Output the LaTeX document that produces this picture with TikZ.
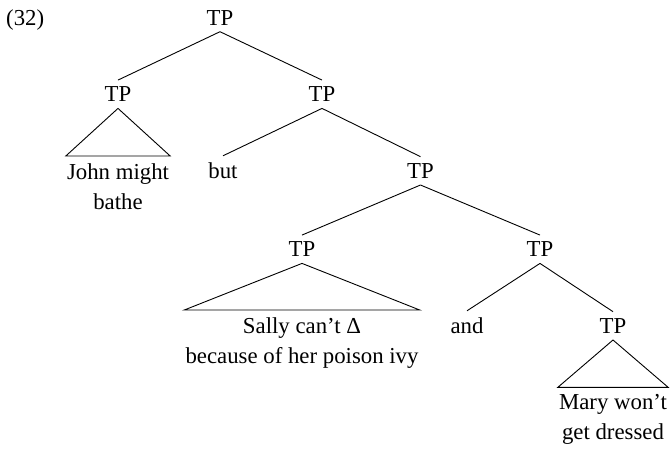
\documentclass[tikz,border=0pt]{standalone}
\usepackage{fontspec}
\setmainfont{Liberation Serif}
\begin{document}
\begin{tikzpicture}[x=1pt,y=-1pt,
  every node/.style={font=\fontsize{22.8}{30}\selectfont},
  cat/.style={anchor=base,inner xsep=1pt,inner ysep=6.5pt},
  leaf/.style={anchor=north,align=center,inner xsep=1pt,inner ysep=7pt},
  branch/.style={line width=0.9pt},
  roof/.style={line width=0.9pt,line join=miter}]
\useasboundingbox (0,0) rectangle (670,451);

% example number
\node[anchor=base west,inner sep=0pt] (num) at (6,25) {(32)};

% category labels
\node[cat] (tp0) at (220,25) {TP};
\node[cat] (tp1) at (118,101.7) {TP};
\node[cat] (tp2) at (322,101.7) {TP};
\node[cat] (but) at (223,178.3) {but};
\node[cat] (tp3) at (420.5,178.3) {TP};
\node[cat] (tp4) at (302,256.7) {TP};
\node[cat] (tp5) at (540,256.7) {TP};
\node[cat] (and) at (467,333.3) {and};
\node[cat] (tp6) at (613,333.3) {TP};

% phrasal leaves under triangles
\node[leaf] (john) at (118,156) {John might\\bathe};
\node[leaf] (sally) at (302,310) {Sally can’t Δ\\because of her poison ivy};
\node[leaf] (mary) at (613,387.3) {Mary won’t\\get dressed};

% branches
\draw[branch] (tp0.south) -- (tp1.north);
\draw[branch] (tp0.south) -- (tp2.north);
\draw[branch] (tp2.south) -- (but.north);
\draw[branch] (tp2.south) -- (tp3.north);
\draw[branch] (tp3.south) -- (tp4.north);
\draw[branch] (tp3.south) -- (tp5.north);
\draw[branch] (tp5.south) -- (and.north);
\draw[branch] (tp5.south) -- (tp6.north);

% triangles
\draw[roof] (tp1.south) -- (john.north west) -- (john.north east) -- cycle;
\draw[roof] (tp4.south) -- (sally.north west) -- (sally.north east) -- cycle;
\draw[roof] (tp6.south) -- (mary.north west) -- (mary.north east) -- cycle;
\end{tikzpicture}
\end{document}
